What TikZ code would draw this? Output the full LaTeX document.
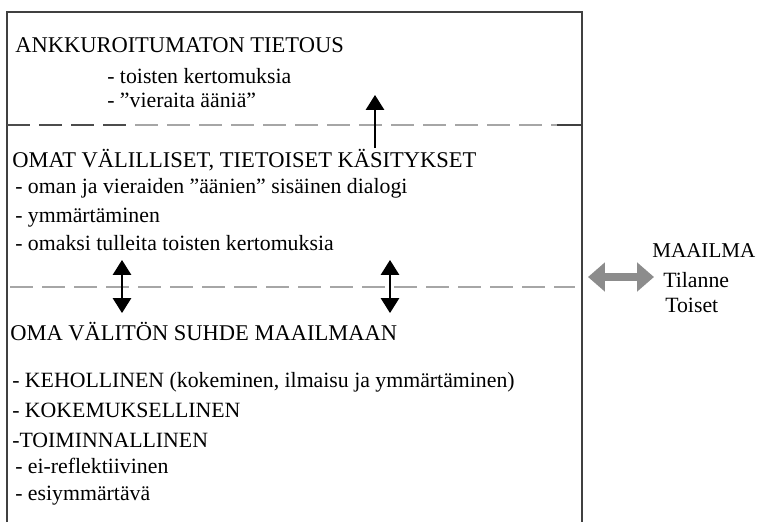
\documentclass[tikz,border=0pt]{standalone}
\usepackage{fontspec}
\setmainfont{Liberation Serif}
\usetikzlibrary{arrows.meta}

\begin{document}
\begin{tikzpicture}[
  x=0.025cm, y=-0.025cm,
  head/.style={anchor=base west,inner sep=0pt,font=\fontsize{16}{19}\selectfont},
  item/.style={anchor=base west,inner sep=0pt,font=\fontsize{15.5}{19}\selectfont},
  frame/.style={draw=black!75,line width=1pt},
  divider/.style={draw=black!35,line width=1pt,dash pattern=on 0.575cm off 0.225cm},
  link/.style={line width=0.8pt,-{Triangle[width=13pt,length=10.5pt]}},
  dlink/.style={line width=0.8pt,{Triangle[width=13pt,length=10.5pt]}-{Triangle[width=13pt,length=10.5pt]}},
  world/.style={draw=black!45,line width=5pt,{Triangle[width=20pt,length=12pt]}-{Triangle[width=20pt,length=12pt]}}
]
  \useasboundingbox (0,0) rectangle (759,522);
  \draw[frame] (7,522) |- (582,12) -- (582,522);
  \draw[divider,draw=black!70] (7,125) -- (130,125);
  \draw[divider] (135,125) -- (557,125);
  \draw[frame] (557,125) -- (582,125);
  \draw[divider] (10,287) -- (575,287);

  \node[head] (ankku) at (15,52) {ANKKUROITUMATON TIETOUS};
  \node[item] (a1) at (107,83) {- toisten kertomuksia};
  \node[item] (a2) at (107,107) {- ”vieraita ääniä”};

  \node[head] (omat) at (12,167) {OMAT VÄLILLISET, TIETOISET KÄSITYKSET};
  \node[item] (o1) at (15,193) {- oman ja vieraiden ”äänien” sisäinen dialogi};
  \node[item] (o2) at (15,222) {- ymmärtäminen};
  \node[item] (o3) at (15,250) {- omaksi tulleita toisten kertomuksia};

  \node[head] (suhde) at (10,340) {OMA VÄLITÖN SUHDE MAAILMAAN};
  \node[item] (s1) at (12,387) {- KEHOLLINEN (kokeminen, ilmaisu ja ymmärtäminen)};
  \node[item] (s2) at (12,417) {- KOKEMUKSELLINEN};
  \node[item] (s3) at (12,447) {-TOIMINNALLINEN};
  \node[item] (s4) at (15,473) {- ei-reflektiivinen};
  \node[item] (s5) at (15,500) {- esiymmärtävä};

  \node[item,font=\fontsize{15}{18}\selectfont] (maailma) at (652,257) {MAAILMA};
  \node[item] (tilanne) at (663,287) {Tilanne};
  \node[item] (toiset) at (665,312) {Toiset};

  % arrows
  \coordinate (up0) at (375,148);
  \coordinate (up1) at (375,95);
  \draw[link] (up0) -- (up1);
  \coordinate (l0) at (122,260);
  \coordinate (l1) at (122,313);
  \draw[dlink] (l0) -- (l1);
  \coordinate (r0) at (390,260);
  \coordinate (r1) at (390,313);
  \draw[dlink] (r0) -- (r1);
  \coordinate (w0) at (588,277);
  \coordinate (w1) at (654,277);
  \draw[world] (w0) -- (w1);
\end{tikzpicture}
\end{document}
